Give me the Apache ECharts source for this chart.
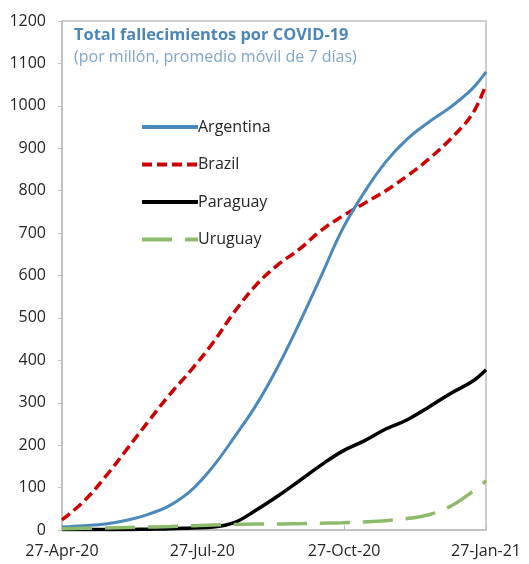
<!DOCTYPE html>
<html>
<head>
<meta charset="utf-8">
<script src="https://cdn.jsdelivr.net/npm/echarts@6/dist/echarts.min.js"></script>
<style>
html,body{margin:0;padding:0;background:#fff;}
#main{width:529px;height:564px;}
</style>
</head>
<body>
<div id="main"></div>
<script>
// Dates of the sampled points
const dates = ['2020-04-27','2020-05-11','2020-05-25','2020-06-08','2020-06-22','2020-07-06','2020-07-20',
  '2020-08-03','2020-08-17','2020-08-31','2020-09-14','2020-09-28','2020-10-12','2020-10-26',
  '2020-11-09','2020-11-23','2020-12-07','2020-12-21','2021-01-04','2021-01-18','2021-01-27'];
const argentina = [7,10,14,23,37,58,94,150,220,295,385,488,598,710,796,868,922,962,997,1040,1080];
const brazil    = [24,67,125,190,256,320,378,442,515,578,625,662,706,740,770,800,835,875,922,980,1050];
const paraguay  = [1,1,1,1,2,3,5,7,18,47,80,116,153,186,210,238,260,290,322,350,378];
const uruguay   = [3,4,5,6,7,8,10,12,13,14,14,15,16,17,19,22,27,36,56,90,116];
const tickDates = ['2020-04-27','2020-07-27','2020-10-27','2021-01-27'];
const tickLabels = ['27-Apr-20','27-Jul-20','27-Oct-20','27-Jan-21'];

const DAY = 86400000;
const t0 = Date.parse(dates[0] + 'T00:00:00Z');
const dayOf = d => Math.round((Date.parse(d + 'T00:00:00Z') - t0) / DAY);
const xs = dates.map(dayOf);
const tickDays = tickDates.map(dayOf);
const pair = arr => arr.map((v, i) => [xs[i], v]);

const chart = echarts.init(document.getElementById('main'), null, {renderer: 'canvas'});
const fontFam = '"Open Sans", "Noto Sans", sans-serif';
chart.setOption({
  animation: false,
  backgroundColor: '#ffffff',
  title: {
    text: 'Total fallecimientos por COVID-19',
    subtext: '(por millón, promedio móvil de 7 días)',
    left: 69, top: 22, itemGap: 6,
    textStyle: {color: '#4a86b8', fontWeight: 'bold', fontSize: 16.4, fontFamily: fontFam},
    subtextStyle: {color: '#7fa6cc', fontSize: 16, fontFamily: fontFam}
  },
  legend: {
    orient: 'vertical',
    left: 135, top: 114,
    itemWidth: 56, itemHeight: 14, itemGap: 21.5,
    itemStyle: {opacity: 0},
    lineStyle: {width: 4},
    textStyle: {color: '#262626', fontSize: 16, fontFamily: fontFam, padding: [0,0,0,-5]},
    data: ['Argentina','Brazil','Paraguay','Uruguay']
  },
  grid: {
    left: 62, right: 43, top: 21, bottom: 34,
    show: true, borderColor: '#bfbfbf', borderWidth: 1.5
  },
  xAxis: {
    type: 'value', min: tickDays[0], max: tickDays[3],
    splitLine: {show: false},
    axisLine: {lineStyle: {color: '#bfbfbf', width: 1.5}},
    axisTick: {show: true, inside: true, length: 5, customValues: tickDays, lineStyle: {color: '#bfbfbf'}},
    axisLabel: {
      customValues: tickDays, margin: 13,
      color: '#262626', fontSize: 16, fontFamily: fontFam,
      formatter: v => tickLabels[tickDays.indexOf(v)] || ''
    }
  },
  yAxis: {
    type: 'value', min: 0, max: 1200, interval: 100,
    splitLine: {show: false},
    axisLine: {show: true, lineStyle: {color: '#bfbfbf', width: 1.5}},
    axisTick: {show: true, length: 4, lineStyle: {color: '#bfbfbf'}},
    axisLabel: {color: '#262626', fontSize: 16, fontFamily: fontFam, margin: 16,
      formatter: v => String(v)}
  },
  series: [
    {name: 'Argentina', type: 'line', data: pair(argentina), symbol: 'none', smooth: 0.4,
     lineStyle: {color: '#4a89bd', width: 3}, itemStyle: {color: '#4a89bd'}, z: 4},
    {name: 'Brazil', type: 'line', data: pair(brazil), symbol: 'none', smooth: 0.4,
     lineStyle: {color: '#cc0000', width: 3.5, type: [10, 5]}, itemStyle: {color: '#cc0000'}, z: 3},
    {name: 'Paraguay', type: 'line', data: pair(paraguay), symbol: 'none', smooth: 0.4,
     lineStyle: {color: '#000000', width: 3.5}, itemStyle: {color: '#000000'}, z: 2},
    {name: 'Uruguay', type: 'line', data: pair(uruguay), symbol: 'none', smooth: 0.4,
     lineStyle: {color: '#8dbb6c', width: 3.5, type: [30, 13]}, itemStyle: {color: '#8dbb6c'}, z: 5}
  ]
});
</script>
</body>
</html>
